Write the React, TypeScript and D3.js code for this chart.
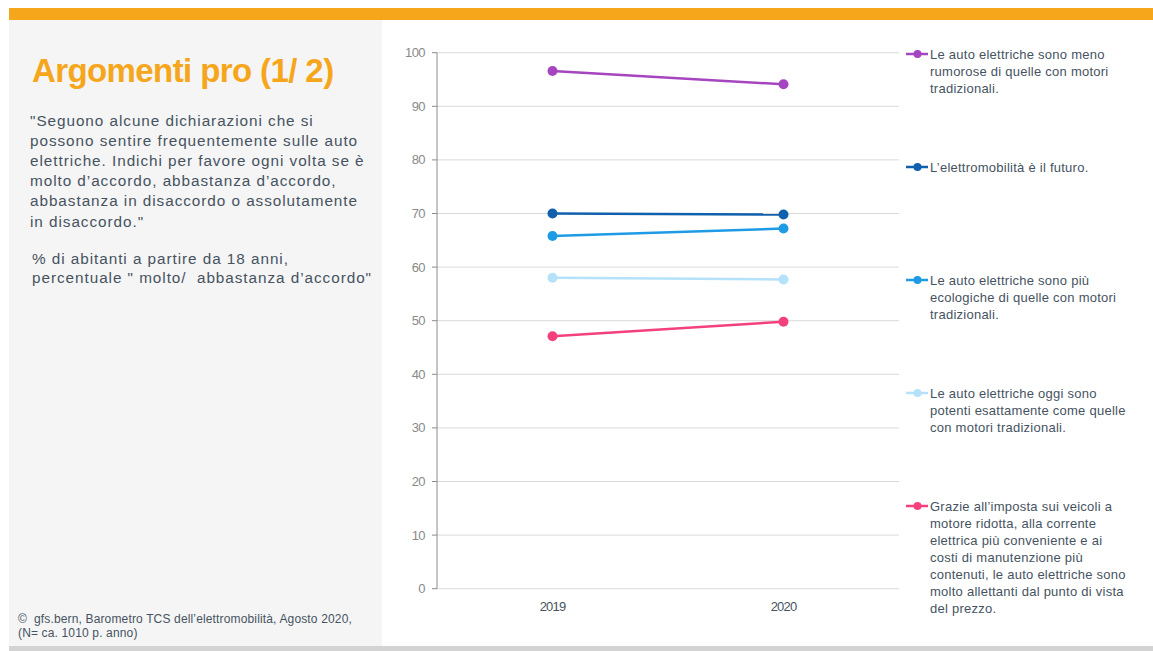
import React from "react";
import * as d3 from "d3";

const years = ["2019", "2020"];
const seriesNames = [
  "Le auto elettriche sono meno rumorose di quelle con motori tradizionali.",
  "L’elettromobilità è il futuro.",
  "Le auto elettriche sono più ecologiche di quelle con motori tradizionali.",
  "Le auto elettriche oggi sono potenti esattamente come quelle con motori tradizionali.",
  "Grazie all’imposta sui veicoli a motore ridotta, alla corrente elettrica più conveniente e ai costi di manutenzione più contenuti, le auto elettriche sono molto allettanti dal punto di vista del prezzo.",
];
const legendLines = [
  ["Le auto elettriche sono meno", "rumorose di quelle con motori", "tradizionali."],
  ["L’elettromobilità è il futuro."],
  ["Le auto elettriche sono più", "ecologiche di quelle con motori", "tradizionali."],
  ["Le auto elettriche oggi sono", "potenti esattamente come quelle", "con motori tradizionali."],
  [
    "Grazie all’imposta sui veicoli a",
    "motore ridotta, alla corrente",
    "elettrica più conveniente e ai",
    "costi di manutenzione più",
    "contenuti, le auto elettriche sono",
    "molto allettanti dal punto di vista",
    "del prezzo.",
  ],
];
const values2019 = [96.6, 70.0, 65.8, 58.0, 47.1];
const values2020 = [94.1, 69.8, 67.2, 57.7, 49.8];
const colors = ["#A545BF", "#1160AD", "#1F9BE6", "#B5E1FA", "#F4417D"];
const yTicks = [0, 10, 20, 30, 40, 50, 60, 70, 80, 90, 100];

const titleText = "Argomenti pro (1/ 2)";
const questionLines = [
  "\"Seguono alcune dichiarazioni che si",
  "possono sentire frequentemente sulle auto",
  "elettriche. Indichi per favore ogni volta se è",
  "molto d’accordo, abbastanza d’accordo,",
  "abbastanza in disaccordo o assolutamente",
  "in disaccordo.\"",
];
const baseLines = [
  "% di abitanti a partire da 18 anni,",
  "percentuale \" molto/  abbastanza d’accordo\"",
];
const sourceLines = [
  "©  gfs.bern, Barometro TCS dell’elettromobilità, Agosto 2020,",
  "(N= ca. 1010 p. anno)",
];

export default function App() {
  const W = 1153;
  const H = 651;
  const plotLeft = 437;
  const plotRight = 899;
  const plotTop = 52.7;
  const plotBottom = 588.7;

  const x = d3.scaleBand().domain(years).range([plotLeft, plotRight]).padding(0);
  const y = d3.scaleLinear().domain([0, 100]).range([plotBottom, plotTop]);
  const line = d3
    .line<{ year: string; v: number }>()
    .x((d) => (x(d.year) as number) + x.bandwidth() / 2)
    .y((d) => y(d.v));

  const data = seriesNames.map((name, i) => ({
    name,
    color: colors[i],
    points: [
      { year: years[0], v: values2019[i] },
      { year: years[1], v: values2020[i] },
    ],
  }));

  const font = "'Liberation Sans', Arial, sans-serif";
  const textColor = "#46535F";

  return (
    <svg
      width={W}
      height={H}
      style={{ position: "absolute", left: 0, top: 0, background: "#fff" }}
      fontFamily={font}
    >
      {/* top orange bar */}
      <rect x={9} y={8} width={W - 9} height={12} fill="#F5A61B" />
      {/* left grey panel */}
      <rect x={9} y={20} width={373} height={626} fill="#F5F5F5" />
      {/* bottom grey bar */}
      <rect x={9} y={646} width={W - 9} height={5} fill="#D3D3D3" />

      {/* title */}
      <text x={32} y={82} fill="#F5A61B" fontSize={33} fontWeight="bold" letterSpacing={-0.6}>
        {titleText}
      </text>
      {questionLines.map((t, i) => (
        <text key={i} x={30} y={125.5 + i * 20.2} fill={textColor} fontSize={15.3} letterSpacing={0.95}>
          {t}
        </text>
      ))}
      {baseLines.map((t, i) => (
        <text
          key={i}
          x={32}
          y={263.5 + i * 19.5}
          fill={textColor}
          fontSize={15.3}
          letterSpacing={0.95}
          style={{ whiteSpace: "pre" }}
        >
          {t}
        </text>
      ))}
      {sourceLines.map((t, i) => (
        <text
          key={i}
          x={18}
          y={623 + i * 14}
          fill={textColor}
          fontSize={12}
          letterSpacing={0.15}
          style={{ whiteSpace: "pre" }}
        >
          {t}
        </text>
      ))}

      {/* gridlines */}
      {yTicks.map((t) => (
        <g key={t}>
          <line x1={plotLeft} x2={plotRight} y1={y(t)} y2={y(t)} stroke="#D9D9D9" strokeWidth={1} />
          <line x1={plotLeft - 5} x2={plotLeft} y1={y(t)} y2={y(t)} stroke="#8C8C8C" strokeWidth={1} />
          <text
            x={plotLeft - 12}
            y={y(t)}
            dy="0.35em"
            textAnchor="end"
            fill="#8A8A8A"
            fontSize={13}
            letterSpacing={-0.6}
          >
            {t}
          </text>
        </g>
      ))}
      <line x1={plotLeft} x2={plotLeft} y1={plotTop} y2={plotBottom} stroke="#8C8C8C" strokeWidth={1} />

      {years.map((yr) => (
        <text
          key={yr}
          x={(x(yr) as number) + x.bandwidth() / 2}
          y={611}
          textAnchor="middle"
          fill={textColor}
          fontSize={13}
          letterSpacing={-0.8}
        >
          {yr}
        </text>
      ))}

      {/* series */}
      {data.map((s, i) => (
        <g key={i}>
          <path d={line(s.points) || ""} fill="none" stroke={s.color} strokeWidth={2.5} />
          {s.points.map((p, j) => (
            <circle
              key={j}
              cx={(x(p.year) as number) + x.bandwidth() / 2}
              cy={y(p.v)}
              r={5}
              fill={s.color}
            />
          ))}
        </g>
      ))}

      {/* legend */}
      {legendLines.map((lines, i) => {
        const ly = 54 + i * 113;
        return (
          <g key={i}>
            <line x1={906} x2={928} y1={ly} y2={ly} stroke={colors[i]} strokeWidth={2.5} />
            <circle cx={917.5} cy={ly} r={4} fill={colors[i]} />
            {lines.map((t, k) => (
              <text
                key={k}
                x={930}
                y={ly + k * 17.1}
                dy="0.35em"
                fill={textColor}
                fontSize={13}
                letterSpacing={0.25}
              >
                {t}
              </text>
            ))}
          </g>
        );
      })}
    </svg>
  );
}
